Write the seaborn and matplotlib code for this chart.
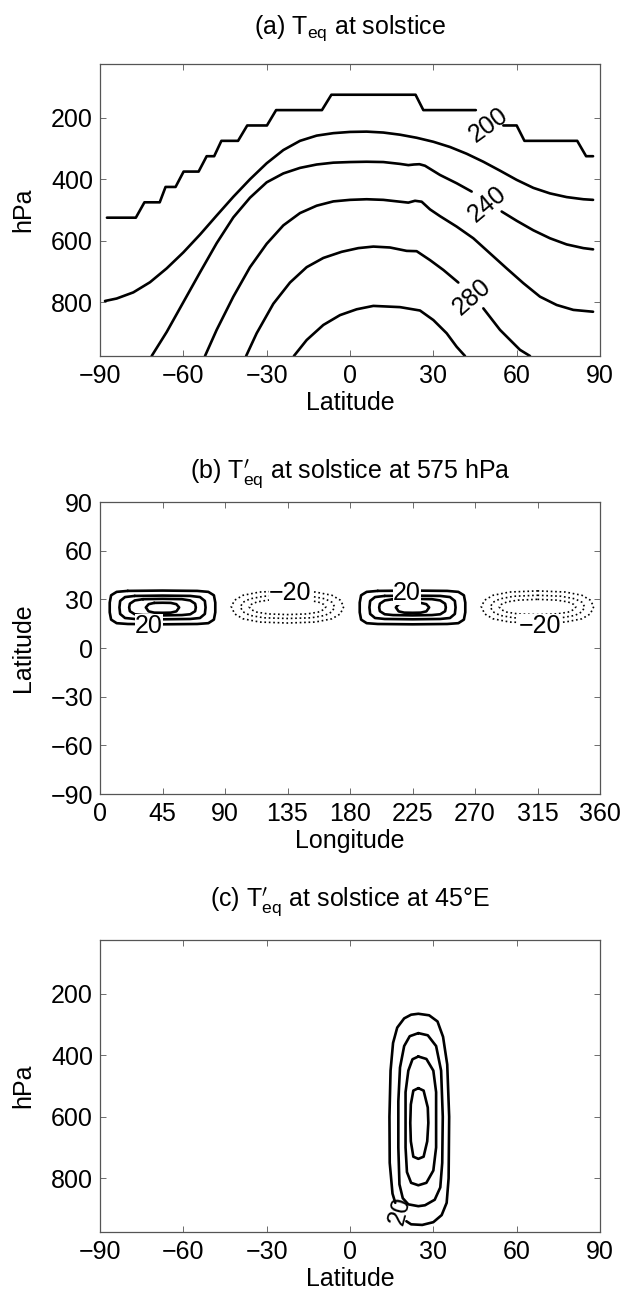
import pandas as pd
import matplotlib.pyplot as plt
import seaborn as sns

# ---- (a) T_eq at solstice: contour lines (lat, hPa) ----
t200a_lat = [-87.5, -77.1, -74.0, -68.5, -66.4, -62.8, -59.9, -54.5, -51.6, -48.9,
             -46.3, -40.3, -37.0, -29.9, -26.6, -10.1, -6.7, 23.6, 26.4, 45.3]
t200a_p = [525, 525, 475, 475, 425, 425, 375, 375, 325, 325,
           275, 275, 225, 225, 175, 175, 125, 125, 175, 175]
t200b_lat = [55.2, 60.0, 62.8, 81.8, 85.0, 87.5]
t200b_p = [225, 225, 275, 275, 325, 325]

t220_lat = [-88.2, -84, -78, -72, -66, -60, -54, -48, -42, -36,
            -30, -24, -18, -12, -6, 0, 6, 12, 18, 24,
            30, 36, 42, 48, 54, 60, 66, 72, 78, 84, 87.5]
t220_p = [796, 788, 768, 735, 690, 638, 580, 518, 457, 400,
          348, 305, 275, 258, 250, 246, 245, 248, 255, 265,
          278, 295, 317, 343, 372, 402, 428, 446, 458, 465, 467]

t240a_lat = [-71.4, -66, -60, -54, -48, -42, -36, -30, -24, -18, -12, -6, 0,
             6, 12, 18, 21, 23, 25, 27, 32.4, 38.4, 43.8]
t240a_p = [975, 897, 800, 703, 608, 524, 460, 410, 381, 363, 352, 346, 344,
           343, 344, 350, 354, 352, 351, 356, 386, 413, 440]
t240b_lat = [54.6, 60, 66, 72, 78, 84, 87.5]
t240b_p = [505, 535, 566, 592, 612, 624, 628]

t260_lat = [-52.2, -48, -42, -36, -30, -24, -18, -12, -6, 0, 6, 12, 18, 21,
            23.4, 25.8, 28.8, 32.4, 38.4, 44.4, 50.4, 56.4, 62.4, 68.4, 74.4, 80.4, 87.5]
t260_p = [975, 890, 782, 686, 610, 550, 510, 486, 472, 467, 465, 467, 473, 476,
          470, 473, 498, 520, 554, 592, 641, 690, 738, 782, 809, 825, 831]

t280a_lat = [-37.4, -33.6, -27.6, -21.6, -15.6, -9.6, -3, 3, 8.4, 14.4, 20.4, 24, 28.8, 33.6, 39]
t280a_p = [975, 901, 805, 736, 686, 656, 636, 624, 619, 622, 633, 634, 663, 695, 736]
t280b_lat = [48, 54, 61.2, 64.8]
t280b_p = [820, 890, 955, 975]

t300_lat = [-20.2, -15.6, -9.6, -3.6, 2.4, 8.4, 18, 25.2, 30, 34.8, 38.4, 41.4]
t300_p = [975, 923, 874, 842, 823, 812, 816, 827, 858, 901, 945, 975]

a_labels = ['200', '240', '280']
a_label_lat = [49.8, 49.4, 43.8]
a_label_p = [223, 480, 784]
a_label_rot = [36, 40, 41]

# ---- (b) T'_eq at 575 hPa: rings as (lon offset from centre, lat) ----
pos_centers = [45, 225]
neg_centers = [135, 315]
pos1_dlon = [-25, 0, 25, 33, 37, 38, 38, 37, 33, 25, 0, -25, -33, -37, -38, -38, -37, -33, -25]
pos1_lat = [35.2, 35.4, 35.2, 34.6, 32.5, 28, 22, 17.5, 15.3, 14.8, 14.6, 14.8, 15.3, 17.5, 22, 28, 32.5, 34.6, 35.2]
pos2_dlon = [-20, 0, 20, 27, 30.5, 31, 30.5, 27, 20, 0, -20, -27, -30.5, -31, -30.5, -27, -20]
pos2_lat = [32.1, 32.3, 32.1, 31.4, 29, 25, 21, 18.5, 17.9, 17.7, 17.9, 18.5, 21, 25, 29, 31.4, 32.1]
pos3_dlon = [-14, 0, 14, 20, 23.5, 24, 23.5, 20, 14, 0, -14, -20, -23.5, -24, -23.5, -20, -14]
pos3_lat = [30.1, 30.3, 30.1, 29.3, 27.3, 25, 22.7, 20.8, 20.3, 20.1, 20.3, 20.8, 22.7, 25, 27.3, 29.3, 30.1]
pos4_dlon = [-6, 0, 6, 10, 12, 10, 6, 0, -6, -10, -12, -10, -6]
pos4_lat = [27.8, 27.9, 27.8, 27, 25, 22.6, 21.8, 21.7, 21.8, 22.6, 25, 27, 27.8]
neg1_dlon = [0, 20, 32, 38, 40.5, 38, 32, 20, 0, -20, -32, -38, -40.5, -38, -32, -20, 0]
neg1_lat = [35.2, 34.5, 32.5, 29.5, 25.5, 21, 18, 16, 15.4, 16, 18, 21, 25.5, 29.5, 32.5, 34.5, 35.2]
neg2_dlon = [0, 17, 27, 32, 34, 32, 27, 17, 0, -17, -27, -32, -34, -32, -27, -17, 0]
neg2_lat = [32.5, 31.9, 30.3, 28.2, 25.3, 22.3, 20.1, 18.6, 18.2, 18.6, 20.1, 22.3, 25.3, 28.2, 30.3, 31.9, 32.5]
neg3_dlon = [0, 14, 22, 26, 27.6, 26, 22, 14, 0, -14, -22, -26, -27.6, -26, -22, -14, 0]
neg3_lat = [30, 29.5, 28.4, 26.9, 25.3, 23.6, 22.1, 21, 20.6, 21, 22.1, 23.6, 25.3, 26.9, 28.4, 29.5, 30]

b_labels = ['20', '\u221220', '20', '\u221220']
b_label_lon = [35, 137, 221, 316.5]
b_label_lat = [13.6, 33.6, 34.1, 13.3]

# ---- (c) T'_eq at 45E: rings (lat, hPa) ----
c1_lat = [16.3, 15.3, 14.3, 14.2, 14.6, 15.5, 17, 19.5, 22, 24.6, 28.5, 31.5, 33.5, 35,
          35.7, 35.5, 34.8, 33, 30, 26, 22, 20.3]
c1_p = [880, 850, 750, 600, 450, 360, 310, 280, 268, 265, 270, 290, 340, 430,
        600, 800, 880, 920, 943, 952, 950, 940]
c2_lat = [24.6, 28, 31, 32.8, 33.4, 33.2, 32.5, 30.5, 27, 24.6, 21, 19, 17.8, 17.4, 17.4, 18, 19.5, 21.5, 24.6]
c2_p = [328, 335, 370, 450, 600, 750, 830, 870, 888, 891, 885, 865, 820, 700, 550, 440, 370, 338, 328]
c3_lat = [24.6, 27.5, 30, 31, 31, 30, 27.5, 24.6, 22, 20.5, 20, 20, 21, 22.5, 24.6]
c3_p = [404, 412, 450, 520, 700, 775, 815, 823, 815, 780, 700, 520, 450, 413, 404]
c4_lat = [24.6, 26.5, 28, 28.2, 27.8, 26.5, 24.6, 22.8, 21.9, 21.7, 21.9, 22.8, 24.6]
c4_p = [507, 515, 570, 620, 680, 730, 737, 730, 680, 620, 560, 515, 507]

c_label_lat = 18.0
c_label_p = 905

FS = 18
LW = 1.9

sns.set_theme(style='ticks')
plt.rcParams.update({
    'xtick.direction': 'in', 'ytick.direction': 'in',
    'xtick.top': True, 'ytick.right': True,
    'xtick.major.size': 4, 'ytick.major.size': 4,
    'xtick.major.width': 0.6, 'ytick.major.width': 0.6,
    'xtick.color': '#555555', 'ytick.color': '#555555',
    'xtick.labelcolor': 'black', 'ytick.labelcolor': 'black',
    'xtick.labelsize': FS, 'ytick.labelsize': FS,
    'axes.edgecolor': '#555555', 'axes.linewidth': 0.9,
    'text.color': 'black', 'axes.labelcolor': 'black',
    'font.size': FS,
})
plt.rcParams['font.family'] = ['Liberation Sans', 'DejaVu Sans']


def segs(parts):
    rows = []
    for name, xs, ys in parts:
        for i, (x, y) in enumerate(zip(xs, ys)):
            rows.append({'seg': name, 'order': i, 'x': x, 'y': y})
    return pd.DataFrame(rows)


fig = plt.figure(figsize=(6.24, 12.94), dpi=100)
W, H = 624, 1294


def add_ax(top_px):
    return fig.add_axes([100 / W, 1 - (top_px + 292) / H, 500 / W, 292 / H])


# ---------- (a) ----------
ax = add_ax(64)
df_a = segs([
    ('200a', t200a_lat, t200a_p), ('200b', t200b_lat, t200b_p),
    ('220', t220_lat, t220_p),
    ('240a', t240a_lat, t240a_p), ('240b', t240b_lat, t240b_p),
    ('260', t260_lat, t260_p),
    ('280a', t280a_lat, t280a_p), ('280b', t280b_lat, t280b_p),
    ('300', t300_lat, t300_p),
])
sns.lineplot(data=df_a, x='x', y='y', units='seg', estimator=None, sort=False,
             color='black', lw=LW, ax=ax)
for lab, x, y, r in zip(a_labels, a_label_lat, a_label_p, a_label_rot):
    ax.text(x, y, lab, rotation=r, ha='center', va='center', fontsize=FS,
            rotation_mode='anchor')
ax.set_xlim(-90, 90)
ax.set_ylim(975, 25)
ax.set_xticks(range(-90, 91, 30))
ax.set_yticks([200, 400, 600, 800])
ax.set_xlabel('Latitude', fontsize=FS)
ax.set_ylabel('hPa', fontsize=FS)
ax.set_title(r'(a) T$_\mathregular{eq}$ at solstice', fontsize=FS, pad=22)

# ---------- (b) ----------
ax = add_ax(502)
pos_rings = [(pos1_dlon, pos1_lat), (pos2_dlon, pos2_lat), (pos3_dlon, pos3_lat), (pos4_dlon, pos4_lat)]
neg_rings = [(neg1_dlon, neg1_lat), (neg2_dlon, neg2_lat), (neg3_dlon, neg3_lat)]
df_pos = segs([(f'p{c}_{k}', [c + d for d in dl], la)
               for c in pos_centers for k, (dl, la) in enumerate(pos_rings)])
df_neg = segs([(f'n{c}_{k}', [c + d for d in dl], la)
               for c in neg_centers for k, (dl, la) in enumerate(neg_rings)])
sns.lineplot(data=df_pos, x='x', y='y', units='seg', estimator=None, sort=False,
             color='black', lw=LW, ax=ax)
sns.lineplot(data=df_neg, x='x', y='y', units='seg', estimator=None, sort=False,
             color='black', lw=1.2, ls=':', ax=ax)
for lab, x, y in zip(b_labels, b_label_lon, b_label_lat):
    ax.text(x, y, lab, ha='center', va='center', fontsize=FS,
            bbox=dict(fc='white', ec='none', pad=0))
ax.set_xlim(0, 360)
ax.set_ylim(-90, 90)
ax.set_xticks(range(0, 361, 45))
ax.set_yticks(range(-90, 91, 30))
ax.set_xlabel('Longitude', fontsize=FS)
ax.set_ylabel('Latitude', fontsize=FS)
ax.set_title(r"(b) T$^{\prime}_\mathregular{eq}$ at solstice at 575 hPa", fontsize=FS, pad=17)

# ---------- (c) ----------
ax = add_ax(940)
df_c = segs([('c1', c1_lat, c1_p), ('c2', c2_lat, c2_p), ('c3', c3_lat, c3_p), ('c4', c4_lat, c4_p)])
sns.lineplot(data=df_c, x='x', y='y', units='seg', estimator=None, sort=False,
             color='black', lw=LW, ax=ax)
ax.text(c_label_lat, c_label_p, '20', rotation=75, ha='center', va='center', fontsize=FS)
ax.set_xlim(-90, 90)
ax.set_ylim(975, 25)
ax.set_xticks(range(-90, 91, 30))
ax.set_yticks([200, 400, 600, 800])
ax.set_xlabel('Latitude', fontsize=FS)
ax.set_ylabel('hPa', fontsize=FS)
ax.set_title("(c) T$^{\\prime}_\\mathregular{eq}$ at solstice at 45\u00b0E", fontsize=FS, pad=24)

for a in fig.axes:
    a.tick_params(axis='x', pad=6)
    a.tick_params(axis='y', pad=5)
    a.xaxis.set_label_coords(0.5, -0.12)
    a.yaxis.set_label_coords(-0.13, 0.5)

fig.savefig('out.png', dpi=100)
